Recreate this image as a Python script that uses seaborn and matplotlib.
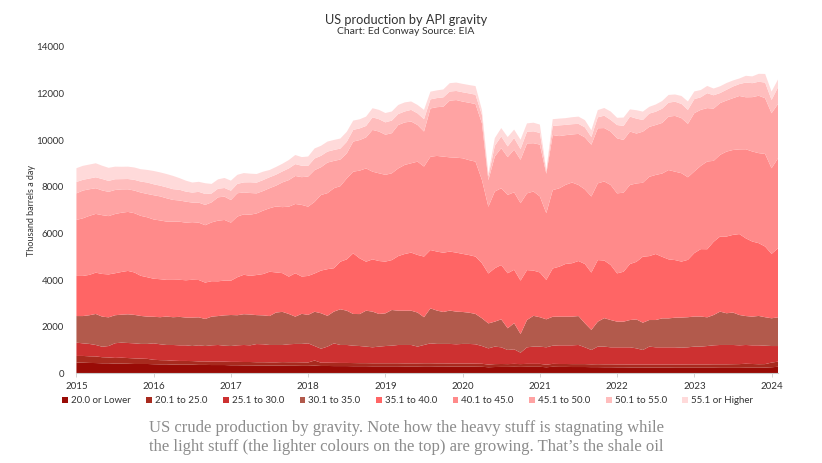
import numpy as np
import pandas as pd
import matplotlib
matplotlib.use('Agg')
import matplotlib.pyplot as plt
import seaborn as sns
from matplotlib.patches import Patch

# monthly US crude production by API gravity, thousand barrels a day
# Jan 2015 .. Feb 2024
years = list(range(2015, 2025))
grades = ['20.0 or Lower', '20.1 to 25.0', '25.1 to 30.0', '30.1 to 35.0', '35.1 to 40.0',
          '40.1 to 45.0', '45.1 to 50.0', '50.1 to 55.0', '55.1 or Higher']
colours = ['#990b06', '#a82a1e', '#cd3131', '#b25a4c', '#ff6565',
           '#ff8a8a', '#ffa3a3', '#ffbdbd', '#ffdada']

api_20_or_lower = [460, 455, 445, 440, 430, 430, 415, 415, 410, 400, 400, 400,
                   390, 385, 385, 375, 370, 370, 370, 360, 360, 355, 355, 355,
                   345, 345, 340, 340, 335, 335, 330, 330, 330, 325, 325, 320,
                   320, 330, 315, 315, 310, 310, 310, 305, 305, 305, 300, 300,
                   300, 300, 300, 295, 295, 295, 300, 300, 295, 295, 290, 290,
                   290, 290, 285, 280, 260, 270, 275, 275, 280, 275, 280, 280,
                   280, 260, 280, 275, 275, 270, 270, 270, 265, 265, 260, 260,
                   255, 255, 250, 250, 250, 245, 245, 245, 245, 240, 240, 240,
                   240, 240, 240, 240, 235, 235, 235, 235, 240, 240, 240, 245,
                   260, 280]
api_20_25 = [285, 290, 285, 285, 260, 250, 245, 255, 245, 240, 230, 220,
             190, 180, 175, 165, 160, 160, 155, 150, 150, 145, 145, 145,
             145, 145, 145, 145, 140, 140, 140, 140, 150, 150, 150, 150,
             145, 220, 140, 140, 140, 135, 135, 135, 130, 130, 130, 130,
             130, 130, 130, 130, 130, 130, 130, 130, 130, 130, 130, 130,
             130, 130, 130, 130, 115, 125, 125, 120, 125, 120, 125, 125,
             125, 110, 125, 125, 125, 125, 125, 125, 120, 125, 125, 125,
             125, 125, 125, 125, 125, 130, 130, 130, 135, 135, 135, 140,
             140, 140, 140, 145, 150, 150, 155, 160, 170, 160, 150, 150,
             200, 220]
api_25_30 = [570, 540, 530, 490, 450, 490, 630, 645, 645, 645, 630, 640,
             705, 680, 655, 675, 670, 670, 645, 690, 660, 700, 715, 685,
             680, 710, 730, 715, 780, 770, 745, 745, 735, 770, 785, 790,
             820, 620, 600, 690, 835, 770, 770, 745, 735, 710, 685, 715,
             740, 755, 785, 790, 790, 720, 785, 855, 835, 835, 840, 825,
             840, 840, 830, 760, 695, 750, 715, 605, 625, 490, 710, 740,
             740, 745, 780, 800, 800, 805, 820, 720, 615, 755, 760, 730,
             735, 735, 740, 695, 625, 770, 740, 740, 735, 740, 725, 735,
             765, 765, 790, 815, 830, 830, 825, 805, 805, 800, 810, 790,
             710, 670]
api_30_35 = [1140, 1170, 1230, 1330, 1290, 1230, 1200, 1200, 1230, 1220, 1200, 1170,
             1140, 1160, 1220, 1190, 1220, 1190, 1220, 1200, 1160, 1230, 1240, 1300,
             1330, 1290, 1320, 1320, 1240, 1240, 1240, 1390, 1420, 1300, 1170, 1290,
             1220, 1470, 1520, 1320, 1360, 1530, 1470, 1360, 1370, 1540, 1530, 1400,
             1400, 1530, 1470, 1470, 1470, 1460, 1190, 1500, 1430, 1370, 1430, 1400,
             1370, 1340, 1300, 1190, 1070, 1070, 1200, 930, 1120, 800, 1170, 1320,
             1260, 1200, 1240, 1230, 1230, 1230, 1240, 1030, 860, 1070, 1220, 1170,
             1100, 1100, 1170, 1240, 1170, 1140, 1170, 1240, 1240, 1270, 1290, 1290,
             1290, 1290, 1230, 1300, 1430, 1360, 1390, 1300, 1240, 1230, 1260, 1220,
             1190, 1230]
api_35_40 = [1720, 1720, 1730, 1770, 1830, 1840, 1800, 1830, 1860, 1820, 1720, 1690,
             1630, 1630, 1570, 1600, 1590, 1600, 1620, 1600, 1560, 1520, 1490, 1490,
             1470, 1630, 1690, 1660, 1720, 1770, 1900, 1720, 1660, 1600, 1860, 1600,
             1670, 1640, 1830, 2000, 1860, 2040, 2200, 2600, 2390, 2100, 2240, 2270,
             2220, 2140, 2340, 2430, 2490, 2470, 2600, 2500, 2530, 2540, 2530, 2530,
             2490, 2470, 2460, 2360, 2140, 2290, 2330, 2360, 2290, 2290, 2140, 1940,
             1920, 1690, 2070, 2140, 2260, 2290, 2360, 2540, 2460, 2640, 2470, 2360,
             2070, 2140, 2400, 2470, 2830, 2740, 2830, 2640, 2530, 2470, 2400, 2460,
             2720, 2890, 2920, 3140, 3220, 3290, 3330, 3470, 3330, 3220, 3120, 3030,
             2760, 2960]
api_40_45 = [2400, 2470, 2530, 2520, 2520, 2500, 2540, 2540, 2530, 2540, 2570, 2570,
             2540, 2520, 2500, 2500, 2490, 2470, 2470, 2460, 2460, 2520, 2600, 2600,
             2490, 2600, 2590, 2620, 2640, 2720, 2720, 2830, 2830, 3000, 2970, 3070,
             2970, 3070, 3240, 3260, 3430, 3240, 3470, 3500, 3760, 4000, 3760, 3760,
             3720, 3720, 3760, 3820, 3830, 4000, 3860, 4000, 4100, 4120, 4040, 4070,
             4100, 4070, 4070, 3570, 2860, 3290, 3290, 3360, 3320, 3320, 3290, 3390,
             3260, 2860, 3360, 3360, 3390, 3460, 3260, 3200, 3260, 3290, 3390, 3430,
             3430, 3390, 3390, 3360, 3170, 3400, 3390, 3570, 3830, 3790, 3790, 3540,
             3500, 3570, 3760, 3470, 3500, 3640, 3640, 3630, 3820, 3860, 3860, 3970,
             3670, 3860]
api_45_50 = [1140, 1190, 1140, 1100, 1060, 1040, 1030, 1000, 970, 970, 1000, 1000,
             1040, 1030, 1000, 930, 910, 900, 840, 860, 870, 860, 1000, 1000,
             970, 1000, 940, 930, 860, 840, 860, 890, 1060, 1140, 1200, 1190,
             1290, 1360, 1190, 1310, 1170, 1140, 1070, 1290, 1310, 1330, 1790, 1790,
             1720, 1720, 1860, 1820, 1790, 1570, 1500, 2070, 2090, 2140, 2430, 2470,
             2430, 2460, 2470, 2430, 1140, 1500, 1720, 1620, 1830, 1860, 2140, 2070,
             2220, 1690, 2360, 2240, 2130, 2060, 2190, 2230, 2220, 2360, 2290, 2290,
             2360, 2260, 2290, 2140, 2190, 2140, 2140, 2170, 2290, 2390, 2360, 2290,
             2500, 2400, 2290, 2240, 2220, 2190, 2220, 2290, 2230, 2330, 2460, 2390,
             2360, 2330]
api_50_55 = [490, 460, 460, 470, 490, 470, 460, 440, 440, 460, 470, 490,
             470, 460, 470, 460, 460, 430, 430, 460, 470, 380, 370, 370,
             400, 400, 430, 460, 460, 470, 470, 470, 470, 500, 510, 490,
             460, 500, 490, 470, 470, 470, 500, 500, 500, 490, 540, 530,
             530, 540, 470, 470, 500, 500, 530, 390, 390, 400, 390, 390,
             400, 400, 400, 360, 170, 460, 500, 460, 500, 460, 500, 510,
             500, 100, 390, 460, 440, 440, 430, 430, 330, 470, 530, 500,
             570, 600, 640, 640, 500, 570, 570, 610, 600, 610, 610, 600,
             600, 540, 640, 570, 430, 460, 500, 510, 630, 600, 600, 670,
             570, 710]
api_55_or_higher = [590, 600, 600, 600, 570, 560, 540, 530, 530, 530, 530, 540,
                    570, 570, 570, 570, 500, 470, 430, 430, 460, 410, 400, 430,
                    430, 390, 400, 370, 370, 360, 310, 330, 330, 360, 390, 370,
                    400, 430, 430, 430, 430, 430, 430, 400, 390, 400, 390, 400,
                    400, 390, 390, 390, 360, 360, 400, 330, 330, 340, 360, 360,
                    360, 360, 370, 210, 110, 330, 360, 400, 360, 400, 360, 370,
                    360, 70, 290, 290, 290, 300, 310, 310, 290, 310, 330, 360,
                    310, 360, 310, 360, 360, 290, 310, 330, 330, 310, 340, 360,
                    330, 310, 310, 290, 290, 290, 260, 240, 290, 290, 340, 370,
                    360, 340]

series = [api_20_or_lower, api_20_25, api_25_30, api_30_35, api_35_40,
          api_40_45, api_45_50, api_50_55, api_55_or_higher]

# long format for seaborn
rows = []
for g, vals in zip(grades, series):
    for m, v in enumerate(vals):
        rows.append((m, g, v))
df = pd.DataFrame(rows, columns=['month', 'grade', 'kbd'])
n_months = len(api_20_or_lower)

sns.set_theme(style='white')
plt.rcParams['font.family'] = ['Lato', 'DejaVu Sans']

fig = plt.figure(figsize=(8.22, 4.63), dpi=100)
ax = fig.add_axes([0.093, 0.1937, 0.8535, 0.7053])

# seaborn stacks the first hue level on top, so feed it heaviest-last
palette = dict(zip(grades, colours))
sns.histplot(data=df, x='month', weights='kbd', hue='grade', hue_order=grades[::-1],
             palette=palette, multiple='stack', element='poly', discrete=True,
             alpha=1, linewidth=0, edgecolor='none', legend=False, ax=ax)

ax.set_xlim(0, n_months - 1)
ax.set_ylim(0, 14000)
ax.set_xticks([12 * i for i in range(len(years))])
ax.set_xticklabels([str(y) for y in years], fontsize=7, color='#333333')
ax.set_yticks(range(0, 14001, 2000))
ax.set_yticklabels([str(v) for v in range(0, 14001, 2000)], fontsize=7, color='#333333')
ax.tick_params(axis='x', length=3, width=0.6, color='#cccccc', pad=3, bottom=True)
ax.tick_params(axis='y', length=0, pad=9)
for s in ['top', 'right', 'left']:
    ax.spines[s].set_visible(False)
ax.spines['bottom'].set_color('#cccccc')
ax.spines['bottom'].set_linewidth(0.8)
ax.set_xlabel('')
ax.set_ylabel('Thousand barrels a day', fontsize=6.5, color='#333333')
ax.yaxis.set_label_coords(-0.058, 0.5)
ax.grid(False)

fig.text(0.494, 0.956, 'US production by API gravity', ha='center', va='center',
         fontsize=9.2, color='#333333')
fig.text(0.494, 0.932, 'Chart: Ed Conway Source: EIA', ha='center', va='center',
         fontsize=7.5, color='#333333')

handles = [Patch(facecolor=c, edgecolor='none', label=g) for g, c in zip(grades, colours)]
fig.legend(handles=handles, loc='center', bbox_to_anchor=(0.496, 0.134), ncol=9,
           frameon=False, fontsize=7, handlelength=0.6, handleheight=0.6,
           handletextpad=0.3, columnspacing=1.6, labelcolor='#333333')

caption = ('US crude production by gravity. Note how the heavy stuff is stagnating while\n'
           'the light stuff (the lighter colours on the top) are growing. That\u2019s the shale oil')
fig.text(0.494, 0.054, caption, ha='center', va='center', fontsize=12,
         color='#8c8c8c', family=['Liberation Serif', 'DejaVu Serif'], linespacing=1.25)

fig.savefig('out.png', dpi=100)
